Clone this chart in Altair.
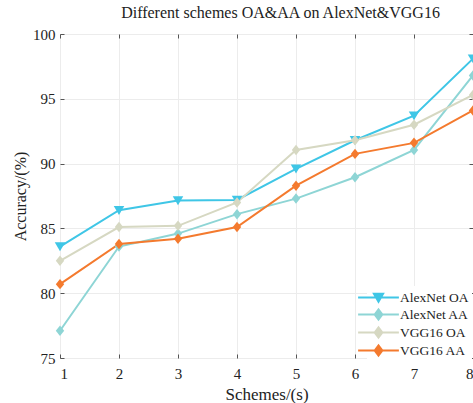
import altair as alt
import pandas as pd

schemes = [1, 2, 3, 4, 5, 6, 7, 8]
alexnet_oa = [83.6, 86.4, 87.15, 87.2, 89.6, 91.8, 93.7, 98.1]
alexnet_aa = [77.1, 83.6, 84.6, 86.1, 87.3, 88.95, 91.05, 96.8]
vgg16_oa = [82.5, 85.1, 85.2, 87.0, 91.05, 91.8, 93.0, 95.3]
vgg16_aa = [80.7, 83.8, 84.2, 85.1, 88.3, 90.75, 91.6, 94.1]

series_names = ["AlexNet OA", "AlexNet AA", "VGG16 OA", "VGG16 AA"]
series_vals = [alexnet_oa, alexnet_aa, vgg16_oa, vgg16_aa]
marker_kind = ["tri", "dia", "dia", "dia"]
colors = ["#3fc6e6", "#8ed5d5", "#d6d8c2", "#f47a2e"]

rows = []
for name, kind, vals in zip(series_names, marker_kind, series_vals):
    for s, v in zip(schemes, vals):
        rows.append({"Scheme": s, "Accuracy": v, "Series": name, "Marker": kind})
df = pd.DataFrame(rows)

TRI = "M-1,-0.8L1,-0.8L0,0.9Z"
DIA = "M-0.8,0L0,-1L0.8,0L0,1Z"
LEG_TRI = "M-2.75,0L2.75,0M-0.62,-0.5L0.62,-0.5L0,0.58Z"
LEG_DIA = "M-2.75,0L2.75,0M-0.52,0L0,-0.68L0.52,0L0,0.68Z"

FONT = "Liberation Serif"

xscale = alt.Scale(domain=[1, 8], nice=False, zero=False)
yscale = alt.Scale(domain=[75, 100], nice=False, zero=False)
col_scale = alt.Scale(domain=series_names, range=colors)

LEG = dict(title=None, orient="none", legendX=307, legendY=252,
           fillColor="white", padding=3, rowPadding=-2,
           symbolSize=220, symbolStrokeWidth=2,
           labelFont=FONT, labelFontSize=13.5, labelColor="#222",
           labelOffset=13)

lines = alt.Chart(df).mark_line(strokeWidth=2).encode(
    x=alt.X("Scheme:Q", scale=xscale,
            axis=alt.Axis(values=schemes, format="d", title="Schemes/(s)",
                          orient="bottom", offset=-4, tickSize=4,
                          tickColor="#555", domain=False,
                          grid=True, gridColor="#ececec",
                          labelPadding=8, labelFontSize=15, labelFont=FONT,
                          labelColor="#222",
                          titleFont=FONT, titleFontSize=17, titleFontWeight="normal",
                          titleColor="#222",
                          titleX=206.5, titleY=40, titleBaseline="middle")),
    y=alt.Y("Accuracy:Q", scale=yscale,
            axis=alt.Axis(values=[75, 80, 85, 90, 95, 100], title="Accuracy/(%)",
                          orient="left", offset=-4, tickSize=4,
                          tickColor="#555", domain=False,
                          grid=True, gridColor="#ececec",
                          labelPadding=5, labelFontSize=15, labelFont=FONT,
                          labelColor="#222",
                          titleFont=FONT, titleFontSize=16, titleFontWeight="normal",
                          titleColor="#222",
                          titleX=-44, titleY=162, titleBaseline="middle")),
    color=alt.Color("Series:N", sort=series_names, scale=col_scale, legend=None),
    detail="Series:N",
)

points = alt.Chart(df).mark_point(filled=True, size=110, opacity=1).encode(
    x=alt.X("Scheme:Q", scale=xscale,
            axis=alt.Axis(values=schemes, orient="top", offset=-4, tickSize=4,
                          tickColor="#555", domain=False, grid=False,
                          labels=False, title=None)),
    y=alt.Y("Accuracy:Q", scale=yscale,
            axis=alt.Axis(values=[75, 80, 85, 90, 95, 100], orient="right",
                          offset=-4, tickSize=4, tickColor="#555",
                          domain=False, grid=False, labels=False, title=None)),
    color=alt.Color("Series:N", sort=series_names, scale=col_scale, legend=None),
    shape=alt.Shape("Marker:N",
                    scale=alt.Scale(domain=["tri", "dia"], range=[TRI, DIA]),
                    legend=None),
)

legend_layer = alt.Chart(df).transform_filter("false").mark_point(
    filled=True, opacity=1, strokeWidth=2
).encode(
    x=alt.X("Scheme:Q", scale=xscale, axis=None),
    y=alt.Y("Accuracy:Q", scale=yscale, axis=None),
    fill=alt.Fill("Series:N", sort=series_names,
                  scale=alt.Scale(domain=series_names, range=colors),
                  legend=alt.Legend(**LEG)),
    stroke=alt.Stroke("Series:N", sort=series_names,
                      scale=alt.Scale(domain=series_names, range=colors),
                      legend=alt.Legend(**LEG)),
    shape=alt.Shape("Series:N", sort=series_names,
                    scale=alt.Scale(domain=series_names,
                                    range=[LEG_TRI, LEG_DIA, LEG_DIA, LEG_DIA]),
                    legend=alt.Legend(**LEG)),
)

chart = alt.layer(lines, points, legend_layer).resolve_axis(
    x="independent", y="independent"
).resolve_scale(
    shape="independent", fill="independent", stroke="independent"
).properties(
    width=413,
    height=324,
    autosize=alt.AutoSizeParams(type="none"),
    padding={"left": 60, "top": 34, "right": 0, "bottom": 45},
    title=alt.TitleParams("Different schemes OA&AA on AlexNet&VGG16",
                          font=FONT, fontSize=16, fontWeight="normal",
                          color="#222", anchor="middle", dx=14, offset=6),
).configure_view(stroke="#666", strokeWidth=1)

chart.save("out.html", embed_options={"renderer": "svg", "actions": False})
